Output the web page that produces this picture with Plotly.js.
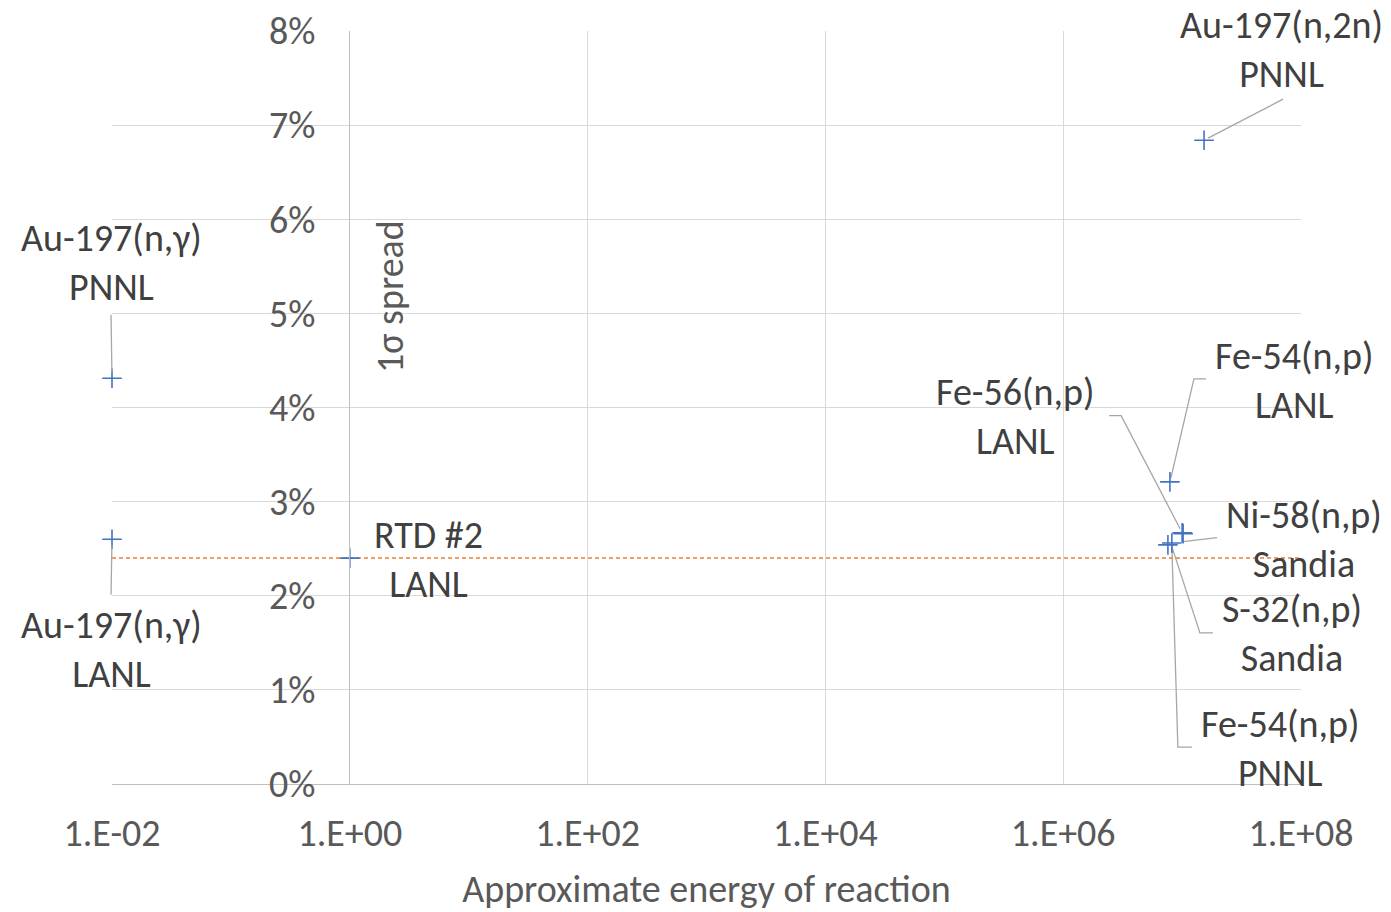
<!DOCTYPE html>
<html>
<head>
<meta charset="utf-8">
<script src="https://cdn.plot.ly/plotly-3.0.1.min.js"></script>
<style>html,body{margin:0;padding:0;background:#fff;}#chart{width:1391px;height:912px;}</style>
</head>
<body>
<div id="chart"></div>
<script>
// ---- data ----
const labels = ['Au-197(n,γ)<br>PNNL', 'Au-197(n,γ)<br>LANL', 'RTD #2<br>LANL', 'Au-197(n,2n)<br>PNNL',
                'Fe-54(n,p)<br>LANL', 'Fe-56(n,p)<br>LANL', 'Ni-58(n,p)<br>Sandia', 'S-32(n,p)<br>Sandia', 'Fe-54(n,p)<br>PNNL'];
const energy = [0.01, 0.01, 1, 1.53e7, 7.9e6, 1.0e7, 1.02e7, 7.6e6, 8.2e6];
const spread = [0.0431, 0.0260, 0.0240, 0.0684, 0.0321, 0.0267, 0.0266, 0.0254, 0.0256];
const avgX = [0.01, 1e8];
const avgY = [0.024, 0.024];
const xTickVals = [1e-2, 1e0, 1e2, 1e4, 1e6, 1e8];
const xTickText = ['1.E-02', '1.E+00', '1.E+02', '1.E+04', '1.E+06', '1.E+08'];

// ---- label placement (pixel offsets from the point: text centre, leader path) ----
const labelShift = [[-1, -116], [-1, 110], [79, 1], [77, -91], [124, -101], [-167, -116], [121, 6], [124, 89], [108, 205]];
const leaders = [
  [[-1, -6], [-1, -65]],
  [[-1, 6], [-1, 57]],
  null,
  [[4, -2], [79, -41]],
  [[1, -4], [24, -103], [36, -103]],
  [[-2, -4], [-61, -117], [-73, -117]],
  [[0, 8], [34, 4]],
  [[4, 2], [32, 88], [45, 88]],
  [[0, 3], [6, 204], [20, 204]]
];

const FONT = 'Calibri, Carlito, Lato, sans-serif';
const LEADER = '#a6a6a6';
const annotations = labels.map((t, i) => ({
  x: Math.log10(energy[i]), y: spread[i], xref: 'x', yref: 'y',
  text: t, showarrow: false, xanchor: 'center', yanchor: 'middle',
  xshift: labelShift[i][0], yshift: -labelShift[i][1],
  font: {family: FONT, size: 38, color: '#404040'}
}));
annotations.push({
  xref: 'paper', yref: 'paper', x: (390 - 112) / 1189, y: (784 - 297) / 753,
  text: '1σ spread', textangle: -90, showarrow: false, xanchor: 'center', yanchor: 'middle',
  font: {family: FONT, size: 38, color: '#595959'}
});

const shapes = [];
leaders.forEach((pts, i) => {
  if (!pts) return;
  if (energy[i] <= avgX[0]) {
    // points on the plot edge: draw the straight leader as an unclipped annotation arrow
    annotations.push({
      x: Math.log10(energy[i]), y: spread[i], xref: 'x', yref: 'y', text: '',
      showarrow: true, arrowhead: 0, arrowwidth: 1.3, arrowcolor: LEADER,
      ax: pts[1][0], ay: pts[1][1], standoff: Math.abs(pts[0][1])
    });
    return;
  }
  const path = pts.map((p, k) => (k ? 'L' : 'M') + p[0] + ',' + (-p[1])).join(' ');
  shapes.push({
    type: 'path', xref: 'x', yref: 'y', xsizemode: 'pixel', ysizemode: 'pixel',
    xanchor: energy[i], yanchor: spread[i], path: path,
    line: {color: LEADER, width: 1.3}, layer: 'between'
  });
});

const traces = [
  {x: avgX, y: avgY, type: 'scatter', mode: 'lines', hoverinfo: 'skip', cliponaxis: false,
   line: {color: '#ED7D31', width: 1.5, dash: '4px,3px'}},
  {x: energy, y: spread, type: 'scatter', mode: 'markers', cliponaxis: false,
   marker: {symbol: 'cross-thin', size: 14, line: {color: '#4472C4', width: 1.6}, color: '#4472C4'}}
];

const layout = {
  width: 1391, height: 912,
  margin: {l: 112, r: 90, t: 31, b: 128},
  paper_bgcolor: '#fff', plot_bgcolor: '#fff',
  showlegend: false,
  font: {family: FONT, color: '#595959'},
  xaxis: {
    type: 'log', range: [-2, 8], tickvals: xTickVals, ticktext: xTickText,
    showgrid: true, gridcolor: '#d9d9d9', gridwidth: 1,
    showline: true, linecolor: '#bfbfbf', linewidth: 1.3,
    zeroline: false, ticks: '', ticklabelstandoff: 15,
    tickfont: {family: FONT, size: 38, color: '#595959'},
    title: {text: 'Approximate energy of reaction', standoff: 30, font: {family: FONT, size: 38, color: '#595959'}},
    automargin: false, fixedrange: true
  },
  yaxis: {
    range: [0, 0.08], dtick: 0.01, tickformat: '.0%',
    anchor: 'free', position: (349 - 112) / 1189,
    showgrid: true, gridcolor: '#d9d9d9', gridwidth: 1,
    showline: true, linecolor: '#bfbfbf', linewidth: 1.3,
    zeroline: false, ticks: '', ticklabelstandoff: 26,
    tickfont: {family: FONT, size: 38, color: '#595959'},
    automargin: false, fixedrange: true
  },
  annotations: annotations,
  shapes: shapes
};

Plotly.newPlot('chart', traces, layout, {displayModeBar: false, staticPlot: true});
</script>
</body>
</html>
